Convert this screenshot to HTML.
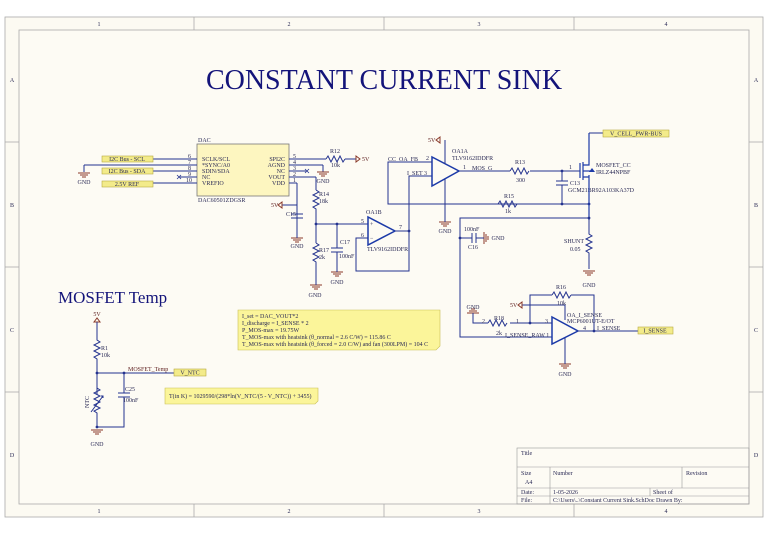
<!DOCTYPE html>
<html><head><meta charset="utf-8"><style>
html,body{margin:0;padding:0;background:#fff;}
svg{display:block;}
text{font-family:"Liberation Serif",serif;fill:#2a2a55;}
.w{stroke:#24338f;stroke-width:1;fill:none;}
.g{stroke:#8a3a2a;stroke-width:1;fill:none;}
.s{font-size:6px;}
.r{font-size:6px;fill:#5a1a1a;}
.port{fill:#f3eb8a;stroke:#b8aa40;stroke-width:0.6;}
</style></head><body>
<svg width="768" height="534" viewBox="0 0 768 534" xmlns="http://www.w3.org/2000/svg">
<rect x="0" y="0" width="768" height="534" fill="#ffffff"/>
<rect x="5" y="17" width="758" height="500" fill="#fcfaf2" stroke="#aaa" stroke-width="0.8"/>
<rect x="19" y="30" width="730" height="474" fill="#fdfbf4" stroke="#aaa" stroke-width="0.8"/>
<g stroke="#aaa" stroke-width="0.8">
<line x1="194" y1="17" x2="194" y2="30"/><line x1="384" y1="17" x2="384" y2="30"/><line x1="574" y1="17" x2="574" y2="30"/>
<line x1="194" y1="504" x2="194" y2="517"/><line x1="384" y1="504" x2="384" y2="517"/><line x1="574" y1="504" x2="574" y2="517"/>
<line x1="5" y1="142" x2="19" y2="142"/><line x1="5" y1="267" x2="19" y2="267"/><line x1="5" y1="392" x2="19" y2="392"/>
<line x1="749" y1="142" x2="763" y2="142"/><line x1="749" y1="267" x2="763" y2="267"/><line x1="749" y1="392" x2="763" y2="392"/>
</g>
<g font-size="6" text-anchor="middle">
<text x="99" y="26">1</text><text x="289" y="26">2</text><text x="479" y="26">3</text><text x="666" y="26">4</text>
<text x="99" y="513">1</text><text x="289" y="513">2</text><text x="479" y="513">3</text><text x="666" y="513">4</text>
<text x="12" y="82">A</text><text x="12" y="207">B</text><text x="12" y="332">C</text><text x="12" y="457">D</text>
<text x="756" y="82">A</text><text x="756" y="207">B</text><text x="756" y="332">C</text><text x="756" y="457">D</text>
</g>
<text x="384" y="89" font-size="28" text-anchor="middle" style="fill:#14147a">CONSTANT CURRENT SINK</text>
<text x="58" y="303" font-size="17" style="fill:#14147a">MOSFET Temp</text>

<!-- DAC -->
<text x="198" y="142" class="s">DAC</text>
<rect x="197" y="144" width="92" height="52" fill="#fdf6c0" stroke="#777" stroke-width="0.8"/>
<text x="198" y="202" class="s">DAC60501ZDGSR</text>
<g class="w">
<line x1="153" y1="159" x2="197" y2="159"/><line x1="84" y1="165" x2="197" y2="165"/>
<line x1="153" y1="171" x2="197" y2="171"/><line x1="180" y1="177" x2="197" y2="177"/>
<line x1="153" y1="183" x2="197" y2="183"/>
<line x1="289" y1="159" x2="326" y2="159"/><line x1="345" y1="159" x2="356" y2="159"/>
<line x1="289" y1="165" x2="323" y2="165"/><line x1="323" y1="165" x2="323" y2="172"/>
<line x1="289" y1="171" x2="306" y2="171"/>
<line x1="289" y1="177" x2="316" y2="177"/><line x1="316" y1="177" x2="316" y2="190"/>
<line x1="289" y1="183" x2="297" y2="183"/><line x1="297" y1="183" x2="297" y2="232"/>
<line x1="282" y1="205" x2="297" y2="205"/>
<line x1="84" y1="165" x2="84" y2="172"/>
</g>
<g class="s">
<text x="202" y="161">SCLK/SCL</text><text x="202" y="167">*SYNC/A0</text><text x="202" y="173">SDIN/SDA</text><text x="202" y="179">NC</text><text x="202" y="185">VREFIO</text>
<text x="285" y="161" text-anchor="end">SPI2C</text><text x="285" y="167" text-anchor="end">AGND</text><text x="285" y="173" text-anchor="end">NC</text><text x="285" y="179" text-anchor="end">VOUT</text><text x="285" y="185" text-anchor="end">VDD</text>
<text x="188" y="158">6</text><text x="188" y="164">7</text><text x="188" y="170">8</text><text x="188" y="176">9</text><text x="186" y="182">10</text>
<text x="293" y="158">5</text><text x="293" y="164">4</text><text x="293" y="170">3</text><text x="293" y="176">2</text><text x="293" y="182">1</text>
</g>
<rect x="102" y="156" width="51" height="6" class="port"/><text x="127" y="161" class="s" text-anchor="middle">I2C Bus - SCL</text>
<rect x="102" y="168" width="51" height="6" class="port"/><text x="127" y="173" class="s" text-anchor="middle">I2C Bus - SDA</text>
<rect x="102" y="181" width="51" height="6" class="port"/><text x="127" y="186" class="s" text-anchor="middle">2.5V REF</text>
<g stroke="#24338f" stroke-width="0.8"><line x1="177" y1="175" x2="181" y2="179"/><line x1="181" y1="175" x2="177" y2="179"/><line x1="305" y1="169" x2="309" y2="173"/><line x1="309" y1="169" x2="305" y2="173"/></g>

<!-- GND symbols -->
<g class="g">
<path d="M78 173h12M80 175h8M82 177h4"/>
<path d="M317 172h12M319 174h8M321 176h4"/>
<path d="M291 238h12M293 240h8M295 242h4"/>
<path d="M310 285h12M312 287h8M314 289h4"/>
<path d="M331 272h12M333 274h8M335 276h4"/>
<path d="M439 222h12M441 224h8M443 226h4"/>
<path d="M583 271h12M585 273h8M587 275h4"/>
<path d="M559 364h12M561 366h8M563 368h4"/>
<path d="M91 430h12M93 432h8M95 434h4"/>
<path d="M467 313h12M469 311h8M471 309h4"/>
<path d="M484 232v12M486 234v8M488 236v4"/>
</g>
<g class="r" text-anchor="middle">
<text x="84" y="184">GND</text><text x="323" y="183">GND</text><text x="297" y="248">GND</text><text x="315" y="297">GND</text>
<text x="337" y="284">GND</text><text x="445" y="233">GND</text><text x="589" y="287">GND</text><text x="565" y="376">GND</text>
<text x="97" y="446">GND</text><text x="473" y="309">GND</text><text x="498" y="240">GND</text>
</g>

<!-- R12 & 5V -->
<path class="w" d="M326 159l2-3 3 6 3-6 3 6 3-6 3 6 2-3"/>
<text x="330" y="153" class="s">R12</text><text x="331" y="167" class="s">10k</text>
<path class="g" d="M356 156l4 3-4 3z"/><text x="362" y="161" class="r">5V</text>
<!-- R14 -->
<path class="w" d="M316 190l3 2-6 3 6 3-6 3 6 3-6 3 3 2v14"/>
<text x="319" y="196" class="s">R14</text><text x="319" y="203" class="s">18k</text>
<!-- 5V at VDD -->
<path class="g" d="M282 202l-4 3 4 3z"/><text x="271" y="207" class="r">5V</text>
<!-- C15 -->
<g class="w"><line x1="291" y1="214" x2="303" y2="214"/><line x1="291" y1="218" x2="303" y2="218"/><line x1="297" y1="218" x2="297" y2="238"/></g>
<text x="286" y="216" class="s">C15</text>
<!-- node and OA1B input -->
<g class="w">
<line x1="316" y1="224" x2="368" y2="224"/>
<line x1="316" y1="224" x2="316" y2="243"/>
<path d="M316 243l3 2-6 3 6 3-6 3 6 3-6 3 3 2v23"/>
<line x1="337" y1="224" x2="337" y2="248"/>
<line x1="331" y1="248" x2="343" y2="248"/><line x1="331" y1="252" x2="343" y2="252"/>
<line x1="337" y1="252" x2="337" y2="272"/>
</g>
<circle cx="316" cy="224" r="1.4" fill="#24338f"/><circle cx="337" cy="224" r="1.4" fill="#24338f"/>
<text x="319" y="252" class="s">R17</text><text x="319" y="259" class="s">2k</text>
<text x="340" y="244" class="s">C17</text><text x="339" y="258" class="s">100nF</text>
<!-- OA1B -->
<path d="M368 217v28l27-14z" fill="none" stroke="#1c3aa8" stroke-width="1.5"/>
<text x="366" y="214" class="s">OA1B</text><text x="367" y="251" class="s">TLV9162IDDFR</text>
<text x="361" y="223" class="s">5</text><text x="361" y="237" class="s">6</text><text x="399" y="229" class="s">7</text>
<text x="370" y="226" class="s">+</text><text x="370" y="240" class="s">−</text>
<g class="w">
<line x1="395" y1="231" x2="409" y2="231"/>
<path d="M368 238h-12v33h53v-95h23"/>
</g>
<circle cx="409" cy="231" r="1.4" fill="#24338f"/>
<text x="407" y="175" class="s">I_SET 3</text>
<!-- OA1A -->
<path d="M432 157v29l27-15z" fill="none" stroke="#1c3aa8" stroke-width="1.5"/>
<text x="452" y="153" class="s">OA1A</text><text x="452" y="160" class="s">TLV9162IDDFR</text>
<text x="388" y="161" class="s">CC_OA_FB</text><text x="426" y="160" class="s">2</text>
<g class="w">
<path d="M432 162h-44v42h201"/>
<path d="M445 140v24"/><path d="M445 179v43"/>
<path d="M459 171h51"/><path d="M530 171h50"/>
<path d="M562 171v10M562 185v19"/>
<line x1="556" y1="181" x2="568" y2="181"/><line x1="556" y1="185" x2="568" y2="185"/>
</g>
<path class="g" d="M440 137l-4 3 4 3z"/><text x="428" y="142" class="r">5V</text>
<text x="463" y="169" class="s">1</text><text x="472" y="170" class="s">MOS_G</text>
<path class="w" d="M510 171l2-3 3 6 3-6 3 6 3-6 3 6 2-3"/>
<text x="515" y="164" class="s">R13</text><text x="516" y="182" class="s">300</text>
<path class="w" d="M498 204l2-3 3 6 3-6 3 6 3-6 3 6 2-3"/>
<text x="504" y="198" class="s">R15</text><text x="505" y="213" class="s">1k</text>
<circle cx="562" cy="171" r="1.4" fill="#24338f"/><circle cx="562" cy="204" r="1.4" fill="#24338f"/><circle cx="589" cy="204" r="1.4" fill="#24338f"/>
<text x="570" y="185" class="s">C13</text><text x="568" y="192" class="s">GCM21BR92A103KA37D</text>
<text x="569" y="169" class="s">1</text>
<!-- MOSFET -->
<g stroke="#1c3aa8" stroke-width="1.2" fill="none">
<line x1="580" y1="163" x2="580" y2="178"/><line x1="583" y1="162" x2="583" y2="180"/>
<path d="M583 165h6v-32M583 177h6v-2M589 175v45"/>
<path d="M583 171h9"/>
</g>
<path d="M592 168l3 4h-6z" fill="#1c3aa8"/>
<text x="596" y="167" class="s">MOSFET_CC</text><text x="596" y="174" class="s">IRLZ44NPBF</text>
<path class="w" d="M589 133h14"/>
<rect x="603" y="130" width="66" height="7" class="port"/><text x="636" y="135.5" class="s" text-anchor="middle">V_CELL_PWR-BUS</text>
<!-- shunt -->
<g class="w">
<path d="M589 218h-129v119h92"/>
<path d="M589 218v16l3 2-6 3 6 3-6 3 6 3-6 3 3 2v16"/>
<path d="M460 238h12M476 238h8"/>
<line x1="472" y1="233" x2="472" y2="243"/><line x1="476" y1="233" x2="476" y2="243"/>
</g>
<circle cx="589" cy="218" r="1.4" fill="#24338f"/><circle cx="460" cy="238" r="1.4" fill="#24338f"/>
<text x="464" y="231" class="s">100nF</text><text x="468" y="249" class="s">C16</text>
<text x="564" y="243" class="s">SHUNT</text><text x="570" y="251" class="s">0.05</text>
<!-- I_SENSE opamp -->
<path d="M552 317v27l26-13z" fill="none" stroke="#1c3aa8" stroke-width="1.5"/>
<g class="w">
<path d="M479 323h9M510 323h42"/>
<path d="M488 323l2-3 3 6 3-6 3 6 3-6 3 6 2-3"/>
<path d="M530 323v-28h22M571 295h23v36"/>
<path d="M552 295l2-3 3 6 3-6 3 6 3-6 3 6 2-3"/>
<path d="M578 331h60"/>
<path d="M522 305h43v15"/>
<path d="M565 338v26"/>
<path d="M473 313v10h6"/>
</g>
<circle cx="530" cy="323" r="1.4" fill="#24338f"/><circle cx="594" cy="331" r="1.4" fill="#24338f"/>
<path class="g" d="M522 302l-4 3 4 3z"/><text x="510" y="307" class="r">5V</text>
<text x="556" y="289" class="s">R16</text><text x="557" y="305" class="s">10k</text>
<text x="494" y="320" class="s">R18</text><text x="496" y="335" class="s">2k</text>
<text x="482" y="323" class="s">2</text><text x="516" y="323" class="s">1</text><text x="545" y="323" class="s">3</text>
<text x="505" y="337" class="s">I_SENSE_RAW 1</text>
<text x="567" y="317" class="s">OA_I_SENSE</text><text x="567" y="323" class="s">MCP6001UT-E/OT</text>
<text x="583" y="330" class="s">4</text><text x="597" y="330" class="s">I_SENSE</text>
<rect x="638" y="327" width="35" height="7" class="port"/><text x="655" y="332.5" class="s" text-anchor="middle">I_SENSE</text>
<!-- notes -->
<path d="M238 310h202v36l-4 4h-198z" fill="#fbf59a" stroke="#c9bf55" stroke-width="0.6"/>
<g class="s"><text x="242" y="318">I_set = DAC_VOUT*2</text><text x="242" y="325">I_discharge = I_SENSE * 2</text><text x="242" y="332">P_MOS-max = 19.75W</text><text x="242" y="339">T_MOS-max with heatsink (θ_normal = 2.6 C/W) = 115.86 C</text><text x="242" y="346">T_MOS-max with heatsink (θ_forced = 2.0 C/W) and fan (300LPM) = 104 C</text></g>
<path d="M165 388h153v13l-3 3h-150z" fill="#fbf59a" stroke="#c9bf55" stroke-width="0.6"/>
<text x="169" y="398" class="s">T(in K) = 1029590/(298*ln(V_NTC/(5 - V_NTC)) + 3455)</text>
<!-- MOSFET Temp circuit -->
<path class="g" d="M97 318l-3 4h6z"/><text x="97" y="316" class="r" text-anchor="middle">5V</text>
<g class="w">
<path d="M97 322v18l3 2-6 3 6 3-6 3 6 3-6 3 3 2v36"/>
<path d="M97 373h77"/>
<path d="M124 373v20M124 397v30h-27"/>
<line x1="118" y1="393" x2="130" y2="393"/><line x1="118" y1="397" x2="130" y2="397"/>
<path d="M97 388l3 2-6 3 6 3-6 3 6 3-6 3 6 3-6 3 3 2v15"/>
<path d="M91 412l12-16M101 396h2v2"/>
</g>
<circle cx="97" cy="373" r="1.4" fill="#24338f"/><circle cx="124" cy="373" r="1.4" fill="#24338f"/><circle cx="97" cy="427" r="1.4" fill="#24338f"/>
<text x="101" y="350" class="s">R1</text><text x="101" y="357" class="s">10k</text>
<text x="128" y="371" class="r">MOSFET_Temp</text>
<rect x="174" y="369" width="32" height="7" class="port"/><text x="190" y="374.5" class="s" text-anchor="middle">V_NTC</text>
<text x="125" y="391" class="s">C25</text><text x="123" y="402" class="s">100nF</text>
<text x="89" y="408" class="s" transform="rotate(-90 89 408)">NTC</text>
<!-- title block -->
<g stroke="#999" stroke-width="0.6" fill="none">
<rect x="517" y="448" width="232" height="56"/>
<line x1="517" y1="467" x2="749" y2="467"/><line x1="517" y1="488" x2="749" y2="488"/><line x1="517" y1="496" x2="749" y2="496"/>
<line x1="550" y1="467" x2="550" y2="504"/><line x1="682" y1="467" x2="682" y2="488"/>
<line x1="650" y1="488" x2="650" y2="496"/>
</g>
<g class="s">
<text x="521" y="455">Title</text><text x="521" y="475">Size</text><text x="525" y="484">A4</text><text x="553" y="475">Number</text><text x="686" y="475">Revision</text>
<text x="521" y="494">Date:</text><text x="553" y="494">1-05-2026</text><text x="653" y="494">Sheet  of</text>
<text x="521" y="502">File:</text><text x="553" y="502">C:\Users\..\Constant Current Sink.SchDoc  Drawn By:</text>
</g>
</svg>
</body></html>
